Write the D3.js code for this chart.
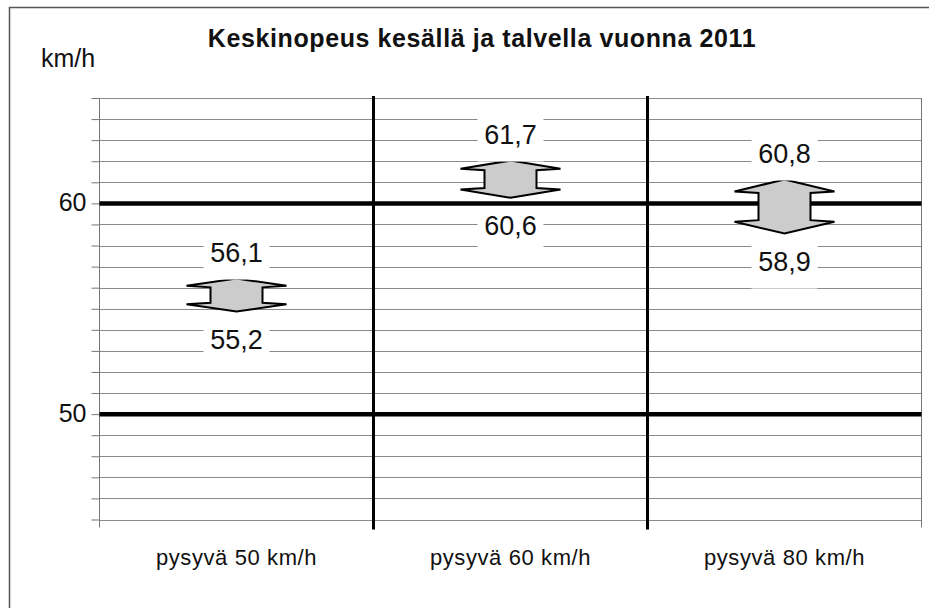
<html>
<head>
<meta charset="utf-8">
<style>
  body { margin: 0; background: #fff; }
  svg text { font-family: "Liberation Sans", Arial, sans-serif; fill: #111; }
  .grid line { stroke: #8a8a8a; stroke-width: 1; }
  .axis path, .axis line { stroke: #777; stroke-width: 1; }
</style>
</head>
<body>
<svg width="929" height="608" id="chart"></svg>
<script src="https://cdn.jsdelivr.net/npm/d3@7"></script>
<script>
// data
var categories = ["pysyvä 50 km/h", "pysyvä 60 km/h", "pysyvä 80 km/h"];
var kesa = [56.1, 61.7, 60.8];   // upper value
var talvi = [55.2, 60.6, 58.9];  // lower value
var gridValues = d3.range(45, 66, 1);
var majorValues = [50, 60];

var svg = d3.select("#chart"),
    width = +svg.attr("width"),
    height = +svg.attr("height");

var plotLeft = 99.5, plotRight = 921.5, plotTop = 98, plotBottom = 519.5;

var x = d3.scaleBand().domain(categories).range([plotLeft, plotRight]).padding(0);
var y = d3.scaleLinear().domain([45, 65]).range([plotBottom, plotTop]);

var fmt = d3.formatLocale({decimal: ",", thousands: " ", grouping: [3], currency: ["", "€"]}).format(".1f");

// outer frame (runs off the right and bottom edge)
svg.append("rect")
  .attr("x", 9.5).attr("y", 7.5)
  .attr("width", 960).attr("height", 640)
  .attr("fill", "none").attr("stroke", "#555").attr("stroke-width", 1.5);

// minor grid
svg.append("g").attr("class", "grid")
  .selectAll("line")
  .data(gridValues.filter(function(d) { return majorValues.indexOf(d) < 0; }))
  .enter().append("line")
  .attr("x1", plotLeft).attr("x2", plotRight)
  .attr("y1", function(d) { return Math.round(y(d)) + 0.5; })
  .attr("y2", function(d) { return Math.round(y(d)) + 0.5; });

// right edge of plot
svg.append("line")
  .attr("x1", plotRight).attr("x2", plotRight)
  .attr("y1", plotTop).attr("y2", plotBottom + 8)
  .attr("stroke", "#777");

// left axis with ticks at every km/h, labels only at majors
var axis = svg.append("g").attr("class", "axis")
  .attr("transform", "translate(" + plotLeft + ",0)")
  .call(d3.axisLeft(y).tickValues(gridValues).tickSize(8).tickPadding(5)
    .tickFormat(function(d) { return majorValues.indexOf(d) >= 0 ? d : ""; }));
axis.select(".domain").attr("d", "M0," + plotTop + "V" + (plotBottom + 8));
axis.selectAll("text")
  .attr("font-size", 25).attr("font-family", "Liberation Sans, Arial, sans-serif")
  .attr("fill", "#111").attr("dy", "0.28em");

// category dividers
svg.append("g")
  .selectAll("line")
  .data(categories.slice(1))
  .enter().append("line")
  .attr("x1", function(d) { return x(d); })
  .attr("x2", function(d) { return x(d); })
  .attr("y1", plotTop - 2).attr("y2", plotBottom + 10)
  .attr("stroke", "#000").attr("stroke-width", 3);

// major lines
svg.append("g")
  .selectAll("line")
  .data(majorValues)
  .enter().append("line")
  .attr("x1", plotLeft).attr("x2", plotRight)
  .attr("y1", function(d) { return y(d); })
  .attr("y2", function(d) { return y(d); })
  .attr("stroke", "#000").attr("stroke-width", 4.5);

// arrows
var rows = categories.map(function(c, i) { return {cat: c, hi: kesa[i], lo: talvi[i]}; });

function arrowPath(d) {
  var cx = x(d.cat) + x.bandwidth() / 2;
  var t = y(d.hi) - 7, b = y(d.lo) + 7;
  var h = 0.22 * (b - t), hw = 50, bw = 26;
  return "M" + cx + "," + t +
    "L" + (cx + hw) + "," + (t + h) + "L" + (cx + bw) + "," + (t + h + 1.5) +
    "L" + (cx + bw) + "," + (b - h - 1.5) + "L" + (cx + hw) + "," + (b - h) +
    "L" + cx + "," + b +
    "L" + (cx - hw) + "," + (b - h) + "L" + (cx - bw) + "," + (b - h - 1.5) +
    "L" + (cx - bw) + "," + (t + h + 1.5) + "L" + (cx - hw) + "," + (t + h) + "Z";
}

svg.append("g")
  .selectAll("path")
  .data(rows)
  .enter().append("path")
  .attr("d", arrowPath)
  .attr("fill", "#cccccc")
  .attr("stroke", "#000")
  .attr("stroke-width", 2)
  .attr("stroke-linejoin", "miter");

// value labels with white boxes
var labels = [];
rows.forEach(function(d) {
  var cx = x(d.cat) + x.bandwidth() / 2;
  labels.push({x: cx, base: y(d.hi) - 7 - 17, text: fmt(d.hi)});
  labels.push({x: cx, base: y(d.lo) + 7 + 37, text: fmt(d.lo)});
});

var lab = svg.append("g").selectAll("g")
  .data(labels)
  .enter().append("g");
lab.append("rect")
  .attr("x", function(d) { return d.x - 33; })
  .attr("y", function(d) { return d.base - 28; })
  .attr("width", 66).attr("height", 46)
  .attr("fill", "#fff");
lab.append("text")
  .attr("x", function(d) { return d.x; })
  .attr("y", function(d) { return d.base; })
  .attr("text-anchor", "middle")
  .attr("font-size", 27)
  .text(function(d) { return d.text; });

// category labels
svg.append("g")
  .selectAll("text")
  .data(categories)
  .enter().append("text")
  .attr("x", function(d) { return x(d) + x.bandwidth() / 2; })
  .attr("y", 565)
  .attr("text-anchor", "middle")
  .attr("font-size", 22)
  .attr("letter-spacing", 0.6)
  .text(function(d) { return d; });

// title and unit
svg.append("text")
  .attr("x", 482).attr("y", 47)
  .attr("text-anchor", "middle")
  .attr("font-size", 25).attr("font-weight", "bold")
  .attr("letter-spacing", 0.6)
  .text("Keskinopeus kesällä ja talvella vuonna 2011");

svg.append("text")
  .attr("x", 41).attr("y", 67)
  .attr("font-size", 25)
  .text("km/h");
</script>
</body>
</html>
